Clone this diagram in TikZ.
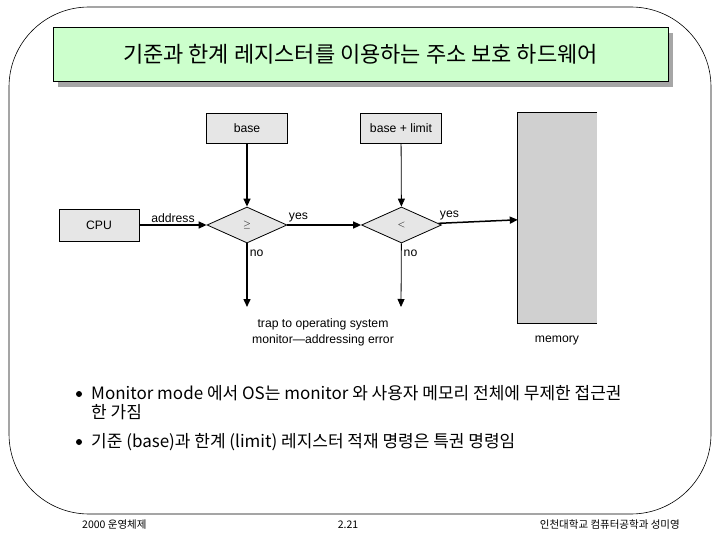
\documentclass[tikz,border=0pt]{standalone}
\usepackage{fontspec}
\setmainfont{Liberation Sans}
\newfontfamily\kr{Noto Sans CJK KR}
\usetikzlibrary{arrows.meta, shapes.geometric, shadows, positioning}
\definecolor{titlegreen}{RGB}{204,255,204}
\definecolor{memgray}{RGB}{208,208,208}
\definecolor{boxgray}{RGB}{230,230,230}

\begin{document}
\begin{tikzpicture}[x=1pt, y=-1pt,
    box/.style={draw, line width=0.8pt, fill=boxgray, minimum width=81pt, minimum height=30pt, inner sep=0pt, font=\fontsize{12.2}{14}\selectfont},
    test/.style={diamond, draw, line width=0.8pt, fill=boxgray, minimum width=80pt, minimum height=36pt, aspect=2.2, inner sep=0pt},
    arrow/.style={-{Triangle[length=8pt,width=7pt]}, line width=1.5pt},
    lbl/.style={font=\fontsize{12.2}{14}\selectfont, inner sep=2pt},
    bulletdot/.style={circle, fill, inner sep=0pt, minimum size=6pt},
    foot/.style={font=\kr\fontsize{10.5}{12}\selectfont, inner sep=0pt}]
\useasboundingbox (0,0) rectangle (720,540);

% slide frame and title
\draw[line width=0.6pt, rounded corners=80pt] (9,7) rectangle (711,514);
\node[draw, fill=titlegreen, minimum width=615pt, minimum height=54pt,
      drop shadow={shadow xshift=5pt, shadow yshift=-6pt, fill=black!35, opacity=1},
      font=\kr\fontsize{22}{24}\selectfont] (title) at (360.5,54)
      {기준과 한계 레지스터를 이용하는 주소 보호 하드웨어};

% hardware
\node[box] (base) at (247,128) {base};
\node[box] (limit) at (401,128) {base + limit};
\node[box, minimum height=32pt, minimum width=80pt] (cpu) at (99,225) {CPU};
\node[test] (ge) at (247,225) {$\geq$};
\node[test] (lt) at (401.5,225) {$<$};
\node[fill=memgray, minimum width=79pt, minimum height=210pt, inner sep=0pt] (mem) at (557.5,218) {};
\draw[line width=0.8pt] (mem.north east) -- (mem.north west) -- (mem.south west) -- (mem.south east);
\coordinate (trapA) at (247,307);
\coordinate (trapB) at (401,307);

\draw[arrow] (base) -- (ge);
\draw[arrow, line width=0.8pt] (limit) -- (lt);
\draw[arrow] (cpu) -- (ge) node[midway, above, lbl] {address};
\draw[arrow] (ge) -- (lt) node[pos=0.15, above, lbl] {yes};
\draw[arrow] (lt) -- (mem) node[pos=0.14, above, lbl] {yes};
\draw[arrow] (ge) -- (trapA) node[pos=0.16, right, lbl] {no};
\draw[arrow, line width=0.8pt] (lt) -- (trapB) node[pos=0.16, right, lbl] {no};

\node[lbl, align=center, font=\fontsize{12.2}{16}\selectfont] (trap) at (323,332)
    {trap to operating system\\monitor—addressing error};
\node[lbl] (memlbl) at (557,340) {memory};

% bullets
\node[bulletdot] (b1) at (79,394) {};
\node[bulletdot] (b2) at (79,442) {};
\node[anchor=west, align=left, inner sep=0pt, font=\kr\fontsize{17}{19}\selectfont] (t1) at (91,403)
    {Monitor mode 에서 OS는 monitor 와 사용자 메모리 전체에 무제한 접근권\\한 가짐};
\node[anchor=west, inner sep=0pt, font=\kr\fontsize{17}{19}\selectfont] (t2) at (91,442)
    {기준 (base)과 한계 (limit) 레지스터 적재 명령은 특권 명령임};

% footer
\node[foot, anchor=west] (fl) at (82,525) {2000 운영체제};
\node[foot] (fc) at (348,525) {2.21};
\node[foot, anchor=east] (fr) at (680,525) {인천대학교 컴퓨터공학과 성미영};
\end{tikzpicture}
\end{document}
